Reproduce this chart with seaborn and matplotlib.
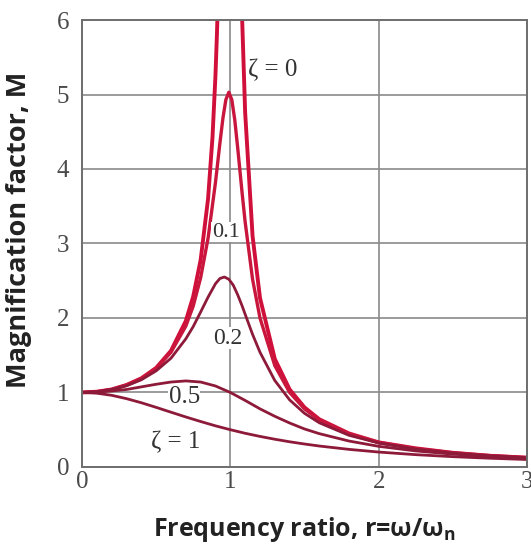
import pandas as pd
import numpy as np
import seaborn as sns
import matplotlib.pyplot as plt

# Values
# zeta = 0 (undamped) - two branches, goes off the top near r = 1
r_zeta0_left = [0, 0.1, 0.2, 0.3, 0.4, 0.5, 0.6, 0.7, 0.75, 0.8, 0.85, 0.88, 0.9, 0.91, 0.92]
m_zeta0_left = [1.0, 1.01, 1.04, 1.10, 1.19, 1.33, 1.56, 1.96, 2.29, 2.78, 3.60, 4.43, 5.26, 5.82, 6.51]
r_zeta0_right = [1.07, 1.08, 1.1, 1.15, 1.2, 1.3, 1.4, 1.5, 1.6, 1.8, 2.0, 2.25, 2.5, 2.75, 3.0]
m_zeta0_right = [6.9, 6.0, 4.76, 3.10, 2.27, 1.45, 1.04, 0.80, 0.64, 0.45, 0.33, 0.25, 0.19, 0.15, 0.125]

r_zeta01 = [0, 0.1, 0.2, 0.3, 0.4, 0.5, 0.6, 0.7, 0.75, 0.8, 0.85, 0.9, 0.93, 0.95, 0.97, 0.99,
            1.01, 1.03, 1.05, 1.08, 1.1, 1.15, 1.2, 1.3, 1.4, 1.5, 1.6, 1.8, 2.0, 2.25, 2.5, 2.75, 3.0]
m_zeta01 = [1.0, 1.01, 1.04, 1.10, 1.185, 1.32, 1.54, 1.89, 2.16, 2.54, 3.07, 3.82, 4.35, 4.68, 4.93, 5.03,
            4.93, 4.66, 4.28, 3.67, 3.29, 2.52, 2.00, 1.36, 1.0, 0.78, 0.63, 0.44, 0.33, 0.245, 0.19, 0.152, 0.125]

r_zeta02 = [0, 0.1, 0.2, 0.3, 0.4, 0.5, 0.6, 0.7, 0.75, 0.8, 0.85, 0.9, 0.93, 0.96, 0.99,
            1.02, 1.05, 1.08, 1.1, 1.15, 1.2, 1.3, 1.4, 1.5, 1.6, 1.8, 2.0, 2.25, 2.5, 2.75, 3.0]
m_zeta02 = [1.0, 1.01, 1.04, 1.09, 1.17, 1.29, 1.46, 1.72, 1.885, 2.08, 2.28, 2.46, 2.53, 2.55, 2.52,
            2.44, 2.31, 2.16, 2.05, 1.78, 1.54, 1.16, 0.90, 0.72, 0.593, 0.425, 0.322, 0.24, 0.187, 0.150, 0.124]

r_heavy = [0, 0.1, 0.2, 0.3, 0.4, 0.5, 0.6, 0.7, 0.8, 0.9, 1.0, 1.1, 1.2, 1.3, 1.4, 1.5, 1.6,
           1.8, 2.0, 2.25, 2.5, 2.75, 3.0]
m_zeta05 = [1.0, 1.005, 1.02, 1.04, 1.075, 1.11, 1.14, 1.155, 1.14, 1.087, 1.0, 0.893, 0.78, 0.68,
            0.59, 0.51, 0.447, 0.348, 0.277, 0.215, 0.172, 0.14, 0.117]
m_zeta1 = [1.0, 0.99, 0.962, 0.917, 0.862, 0.8, 0.735, 0.671, 0.61, 0.552, 0.5, 0.452, 0.41, 0.372,
           0.338, 0.308, 0.281, 0.236, 0.2, 0.165, 0.138, 0.117, 0.1]

x_ticks = [0, 1, 2, 3]
y_ticks = [0, 1, 2, 3, 4, 5, 6]

sns.set_style("white")

fig = plt.figure(figsize=(5.31, 5.5), dpi=100)
ax = fig.add_axes([0.1544, 0.151, 0.838, 0.8126])

red = "#d0103a"
red2 = "#c8163c"
dark = "#8e1a3a"

sns.lineplot(x=r_zeta0_left, y=m_zeta0_left, ax=ax, color=red, linewidth=2.8)
sns.lineplot(x=r_zeta0_right, y=m_zeta0_right, ax=ax, color=red, linewidth=2.8)
sns.lineplot(x=r_zeta01, y=m_zeta01, ax=ax, color=red2, linewidth=2.4)
sns.lineplot(x=r_zeta02, y=m_zeta02, ax=ax, color=dark, linewidth=2.0)
sns.lineplot(x=r_heavy, y=m_zeta05, ax=ax, color=dark, linewidth=2.0)
sns.lineplot(x=r_heavy, y=m_zeta1, ax=ax, color=dark, linewidth=2.0)

ax.set_xlim(0, 3)
ax.set_ylim(0, 6)
ax.set_xticks(x_ticks)
ax.set_yticks(y_ticks)
ax.grid(True, color="#8a8a8a", linewidth=1.2)
ax.set_axisbelow(True)
for s in ax.spines.values():
    s.set_color("#6e6e6e")
    s.set_linewidth(1.4)
ax.tick_params(length=0, labelsize=18, labelcolor="#4a4a4a")
ax.tick_params(axis="y", pad=9)
ax.tick_params(axis="x", pad=3)
for lab in ax.get_xticklabels() + ax.get_yticklabels():
    lab.set_family("Liberation Serif")

ax.set_xlabel(r"Frequency ratio, r=ω/ω$_\mathregular{n}$", fontsize=18, fontweight="bold",
              family="Open Sans", color="#222222", labelpad=16)
ax.set_ylabel("Magnification factor, M", fontsize=19.5, fontweight="bold",
              family="Open Sans", color="#222222")
ax.yaxis.set_label_coords(-0.112, 0.53)

txt = dict(family="Liberation Serif", color="#333333")
box = dict(facecolor="white", edgecolor="none", pad=0.3)
ax.text(1.12, 5.33, "ζ = 0", ha="left", va="center", fontsize=18, **txt)
ax.text(0.97, 3.15, "0.1", ha="center", va="center", fontsize=16, bbox=box, **txt)
ax.text(0.98, 1.73, "0.2", ha="center", va="center", fontsize=17, bbox=box, **txt)
ax.text(0.69, 0.94, "0.5", ha="center", va="center", fontsize=18, bbox=box, **txt)
ax.text(0.63, 0.34, "ζ = 1", ha="center", va="center", fontsize=18, **txt)

fig.savefig("out.png", dpi=100)
